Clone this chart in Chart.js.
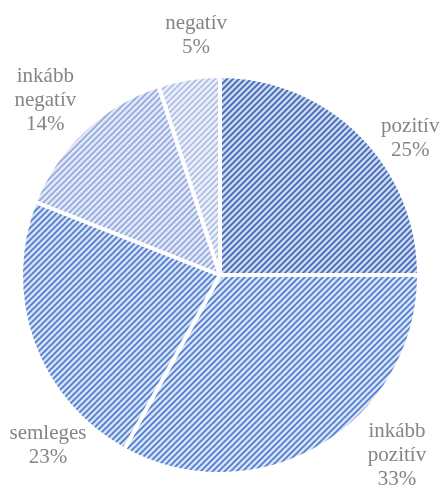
<!DOCTYPE html>
<html>
<head>
<meta charset="utf-8">
<script src="https://cdn.jsdelivr.net/npm/chart.js@4/dist/chart.umd.min.js"></script>
<style>
  html, body { margin: 0; padding: 0; background: #fff; }
  #wrap { width: 442px; height: 488px; }
</style>
</head>
<body>
<div id="wrap"><canvas id="pieChart" width="442" height="488"></canvas></div>
<script>
// slice data, clockwise from 12 o'clock
var labels = ['pozitív', 'inkább pozitív', 'semleges', 'inkább negatív', 'negatív'];
var labelLines = [['pozitív'], ['inkább', 'pozitív'], ['semleges'], ['inkább', 'negatív'], ['negatív']];
var values = [25, 33, 23, 14, 5];

// hatch colours per slice: line colour, background colour
var lineColors = ['#3d66b4', '#4a7bcf', '#4b7bcd', '#93a9de', '#afbde5'];
var bgColors = ['#cbd6ef', '#d8e2f5', '#d6e0f4', '#e2e8f7', '#ebeff9'];

function hatch(fg, bg) {
    var s = 6;
    var c = document.createElement('canvas');
    c.width = s; c.height = s;
    var g = c.getContext('2d');
    g.fillStyle = bg;
    g.fillRect(0, 0, s, s);
    g.strokeStyle = fg;
    g.lineWidth = 1.6;
    g.beginPath();
    g.moveTo(0, s); g.lineTo(s, 0);
    g.moveTo(-1, 1); g.lineTo(1, -1);
    g.moveTo(s - 1, s + 1); g.lineTo(s + 1, s - 1);
    g.stroke();
    return g.createPattern(c, 'repeat');
}

var fills = [];
for (var i = 0; i < values.length; i++) {
    fills.push(hatch(lineColors[i], bgColors[i]));
}

// outside labels, placed Excel "best fit" style (angle from top cw, distance from centre)
var outsideLabels = {
    id: 'outsideLabels',
    afterDatasetsDraw: function (chart, args, opts) {
        var ctx = chart.ctx;
        var meta = chart.getDatasetMeta(0);
        var total = values.reduce(function (a, b) { return a + b; }, 0);
        ctx.save();
        ctx.font = '21px "Liberation Serif", "Times New Roman", serif';
        ctx.fillStyle = '#858585';
        ctx.textAlign = 'center';
        ctx.textBaseline = 'middle';
        meta.data.forEach(function (arc, i) {
            var p = opts.place[i];
            var a = p[0] * Math.PI / 180;
            var cx = arc.x + Math.sin(a) * p[1];
            var cy = arc.y - Math.cos(a) * p[1];
            var lines = labelLines[i].slice();
            lines.push(Math.round(values[i] / total * 100) + '%');
            var lh = 24;
            var y0 = cy - (lines.length - 1) * lh / 2;
            lines.forEach(function (t, k) {
                ctx.fillText(t, cx, y0 + k * lh);
            });
        });
        ctx.restore();
    }
};

var ctxP = document.getElementById('pieChart').getContext('2d');
var myPie = new Chart(ctxP, {
    type: 'pie',
    data: {
        labels: labels,
        datasets: [
            {
                data: values,
                backgroundColor: fills,
                borderColor: '#ffffff',
                borderWidth: 4
            }
        ]
    },
    options: {
        responsive: false,
        animation: false,
        layout: { padding: { top: 74, bottom: 12, left: 19, right: 21 } },
        plugins: {
            legend: { display: false },
            tooltip: { enabled: false },
            outsideLabels: {
                place: [[54.4, 234], [135.6, 253], [225.3, 242], [315, 247], [354.3, 241]]
            }
        }
    },
    plugins: [outsideLabels]
});
</script>
</body>
</html>
